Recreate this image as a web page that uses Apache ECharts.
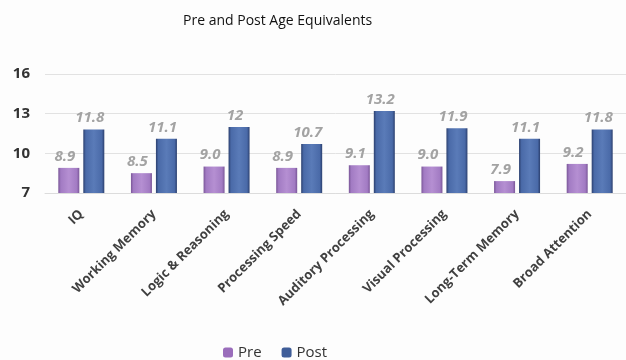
<!DOCTYPE html>
<html><head><meta charset="utf-8">
<script src="https://cdn.jsdelivr.net/npm/echarts@6/dist/echarts.min.js"></script>
<style>html,body{margin:0;padding:0;background:#fdfdfd}#c{width:626px;height:360px}</style>
</head><body><div id="c"></div>
<script>
const categories = ['IQ','Working Memory','Logic & Reasoning','Processing Speed','Auditory Processing','Visual Processing','Long-Term Memory','Broad Attention'];
const preValues = [8.9, 8.5, 9.0, 8.9, 9.1, 9.0, 7.9, 9.2];
const postValues = [11.8, 11.1, 12, 10.7, 13.2, 11.9, 11.1, 11.8];
const preLabels = ['8.9','8.5','9.0','8.9','9.1','9.0','7.9','9.2'];
const postLabels = ['11.8','11.1','12','10.7','13.2','11.9','11.1','11.8'];
const yTicks = [7, 10, 13, 16];

function grad(edge, mid, light){
  return new echarts.graphic.LinearGradient(0,0,1,0,[
    {offset:0,color:edge},{offset:0.12,color:mid},{offset:0.5,color:light},{offset:0.88,color:mid},{offset:1,color:edge}
  ]);
}
const chart = echarts.init(document.getElementById('c'), null, {renderer:'canvas'});
const font = '"Open Sans", sans-serif';
const labelStyle = (arr) => ({
  show:true, position:'top', distance:4, offset:[-4,0],
  formatter:(p)=>arr[p.dataIndex],
  color:'#a3a3a3', fontStyle:'italic', fontWeight:'bold', fontSize:15, fontFamily:font
});
chart.setOption({
  animation:false,
  backgroundColor:'#fdfdfd',
  title:{text:'Pre and Post Age Equivalents', left:178, top:9,
    textStyle:{fontFamily:font, fontSize:14, fontWeight:'normal', color:'#111'}},
  legend:{top:340, left:218, itemWidth:10, itemHeight:10, itemGap:20,
    textStyle:{fontFamily:font, fontSize:15, color:'#333'},
    data:[{name:'Pre', itemStyle:{color:'#9a6dbb'}},{name:'Post', itemStyle:{color:'#3f5d98'}}]},
  grid:{left:45, right:0, top:74, height:119},
  xAxis:{type:'category', data:categories,
    axisLine:{lineStyle:{color:'#dcdcdc'}}, axisTick:{show:false},
    axisLabel:{rotate:45, interval:0, margin:19, fontFamily:font, fontSize:13, fontWeight:'bold', color:'#404040'}},
  yAxis:{type:'value', min:yTicks[0], max:yTicks[yTicks.length-1], interval:3,
    axisLine:{show:false}, axisTick:{show:false},
    splitLine:{lineStyle:{color:'#e2e2e2'}},
    axisLabel:{margin:15, fontFamily:font, fontSize:15, fontWeight:'bold', color:'#333'}},
  series:[
    {name:'Pre', type:'bar', data:preValues, barWidth:21, barGap:'19%',
      itemStyle:{color:grad('#7a5698','#a27bc3','#b58fd2')}, label:labelStyle(preLabels)},
    {name:'Post', type:'bar', data:postValues, barWidth:21,
      itemStyle:{color:grad('#2b3f6e','#4a6aa8','#5a7bb8')}, label:labelStyle(postLabels)}
  ]
});
</script></body></html>
